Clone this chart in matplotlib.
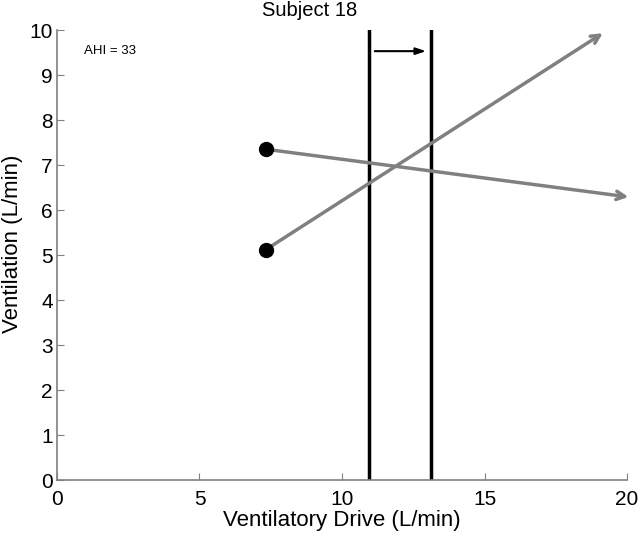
import matplotlib
matplotlib.use("Agg")
import matplotlib.pyplot as plt

plt.rcParams['font.family'] = ['Liberation Sans', 'DejaVu Sans']

start_x = [7.33, 7.33]
start_y = [7.35, 5.12]
end_x = [20.05, 19.15]
end_y = [6.29, 9.93]
vlines_x = [10.95, 13.12]
shift_arrow_x = [11.15, 12.95]
shift_arrow_y = 9.53
title = "Subject 18"
annot = "AHI = 33"

fig = plt.figure(figsize=(6.38, 5.35), dpi=100)
ax = fig.add_axes([0.0893, 0.1028, 0.8935, 0.8411])
ax.set_xlim(0, 20)
ax.set_ylim(0, 10)
ax.set_xticks([0, 5, 10, 15, 20])
ax.set_yticks(range(0, 11))

grey = '#808080'
for sx, sy, ex, ey in zip(start_x, start_y, end_x, end_y):
    ax.annotate('', xy=(ex, ey), xytext=(sx, sy),
                arrowprops=dict(arrowstyle='->,head_length=0.6,head_width=0.3', color=grey, lw=2.5,
                                shrinkA=0, shrinkB=0), annotation_clip=False)
ax.plot(start_x, start_y, 'o', color='black', markersize=10, zorder=5, clip_on=False)
for vx in vlines_x:
    ax.plot([vx, vx], [0, 10], color='black', lw=2.5)
ax.annotate('', xy=(shift_arrow_x[1], shift_arrow_y), xytext=(shift_arrow_x[0], shift_arrow_y),
            arrowprops=dict(arrowstyle='-|>,head_length=0.6,head_width=0.2', color='black', lw=1.5,
                            shrinkA=0, shrinkB=0))

ax.text(0.95, 9.53, annot, fontsize=9.5, va='center', ha='left')
ax.text(0.444, 1.0 + 20 / 450, title, fontsize=14.5, ha='center', va='center',
        transform=ax.transAxes)
ax.set_xlabel("Ventilatory Drive (L/min)", fontsize=16, labelpad=1)
ax.set_ylabel("Ventilation (L/min)", fontsize=16)
ax.yaxis.set_label_coords(-0.06, 0.524)

for s in ['top', 'right']:
    ax.spines[s].set_visible(False)
for s in ['left', 'bottom']:
    ax.spines[s].set_color(grey)
    ax.spines[s].set_linewidth(1.2)
ax.tick_params(direction='in', length=5, color=grey, labelsize=15)
ax.tick_params(axis='x', pad=7)
ax.tick_params(axis='y', pad=3)

fig.savefig('out.png', dpi=100)
